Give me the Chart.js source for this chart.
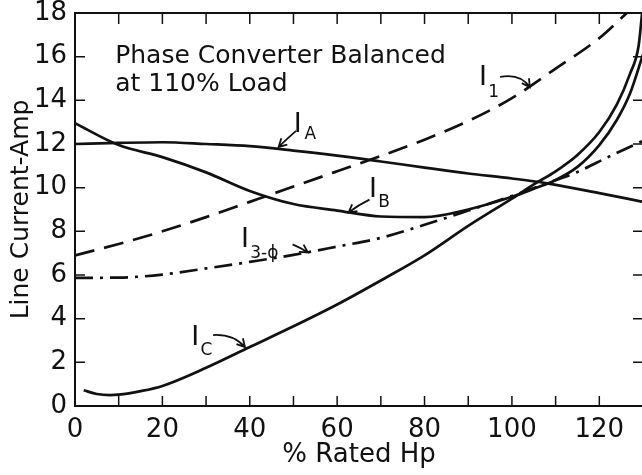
<!DOCTYPE html>
<html>
<head>
<meta charset="utf-8">
<script src="https://cdn.jsdelivr.net/npm/chart.js@4.4.1/dist/chart.umd.min.js"></script>
<style>
  html, body { margin: 0; padding: 0; background: #fff; overflow: hidden; }
  #wrap { width: 650px; height: 475px; }
</style>
</head>
<body>
<div id="wrap"><canvas id="grafico" width="650" height="475"></canvas></div>
<script>
// % rated hp (x) y corriente de linea en amperios (y)
const hpA = [0, 10, 20, 30, 40, 50, 60, 70, 80, 90, 100, 108, 120, 130];
const corrA = [12.0, 12.05, 12.08, 12.0, 11.9, 11.7, 11.47, 11.2, 10.92, 10.65, 10.42, 10.2, 9.75, 9.35];

const hpB = [0, 10, 20, 30, 40, 50, 60, 70, 80, 90, 100, 105, 110, 115, 120, 124, 127, 130];
const corrB = [12.95, 11.95, 11.4, 10.7, 9.85, 9.25, 8.95, 8.68, 8.65, 9.0, 9.58, 9.95, 10.35, 10.95, 11.95, 13.1, 14.3, 16.1];

const hpC = [2, 5, 8, 10, 15, 20, 30, 40, 50, 60, 70, 80, 90, 100, 105, 110, 115, 120, 124, 127, 129, 129.8];
const corrC = [0.72, 0.55, 0.5, 0.52, 0.68, 0.92, 1.75, 2.7, 3.65, 4.65, 5.75, 6.9, 8.25, 9.5, 10.15, 10.75, 11.5, 12.55, 13.8, 15.2, 16.5, 18];

const hp1 = [0, 10, 20, 30, 40, 50, 60, 70, 80, 90, 100, 110, 120, 126.3];
const corr1 = [6.9, 7.42, 8.0, 8.65, 9.35, 10.05, 10.75, 11.45, 12.2, 13.05, 14.1, 15.45, 16.85, 18];

const hp3 = [0, 10, 20, 30, 40, 50, 60, 70, 80, 90, 100, 108, 115, 122, 130];
const corr3 = [5.87, 5.88, 6.02, 6.3, 6.6, 6.92, 7.3, 7.7, 8.3, 8.95, 9.62, 10.2, 10.72, 11.4, 12.15];

const xLabels = [0, 20, 40, 60, 80, 100, 120];
const yLabels = [0, 2, 4, 6, 8, 10, 12, 14, 16, 18];

const titulo = ["Phase Converter Balanced", "at 110% Load"];

// etiquetas de las curvas (en unidades de los ejes)
const etiquetas = [
    {t: "I", sub: "A", x: 51.0, y: 12.55, sx: 52.5, sy: 12.25},
    {t: "I", sub: "B", x: 68.2, y: 9.57, sx: 69.4, sy: 9.1},
    {t: "I", sub: "3-\u03d5", x: 38.9, y: 7.28, sx: 40.1, sy: 6.78},
    {t: "I", sub: "1", x: 93.4, y: 14.7, sx: 94.6, sy: 14.15},
    {t: "I", sub: "C", x: 27.5, y: 2.79, sx: 28.7, sy: 2.32}
];
const flechas = [
    {x0: 50.6, y0: 12.6, cx: 48.6, cy: 12.25, x1: 46.6, y1: 11.87},
    {x0: 67.4, y0: 9.45, cx: 64.8, cy: 9.2, x1: 62.6, y1: 8.86},
    {x0: 49.8, y0: 7.4, cx: 51.6, cy: 7.25, x1: 53.3, y1: 7.03},
    {x0: 97.3, y0: 15.07, cx: 101.9, cy: 15.25, x1: 104.1, y1: 14.6},
    {x0: 31.6, y0: 3.25, cx: 36.2, cy: 3.3, x1: 38.9, y1: 2.7}
];

const FUENTE = "'DejaVu Sans', sans-serif";
const NEGRO = "#111";

function puntos(xs, ys){
    return xs.map(function(v, i){ return {x: v, y: ys[i]}; });
}

function serie(label, xs, ys, dash){
    return {
        label: label,
        data: puntos(xs, ys),
        borderColor: NEGRO,
        borderWidth: 2.7,
        borderDash: dash,
        pointRadius: 0,
        fill: false,
        cubicInterpolationMode: 'monotone'
    };
}

const marco = {
    id: 'marco',
    afterDatasetsDraw(chart){
        const ctx = chart.ctx;
        const a = chart.chartArea;
        const x = chart.scales.x;
        const y = chart.scales.y;
        ctx.save();
        ctx.strokeStyle = NEGRO;
        ctx.lineWidth = 2;
        ctx.strokeRect(a.left, a.top, a.right - a.left, a.bottom - a.top);
        ctx.lineWidth = 1.5;
        ctx.beginPath();
        x.ticks.forEach(function(t){
            if (t.value <= x.min || t.value >= x.max) return;
            const px = x.getPixelForValue(t.value);
            ctx.moveTo(px, a.bottom); ctx.lineTo(px, a.bottom - 10);
            ctx.moveTo(px, a.top); ctx.lineTo(px, a.top + 11);
        });
        y.ticks.forEach(function(t){
            if (t.value <= y.min || t.value >= y.max) return;
            const py = y.getPixelForValue(t.value);
            ctx.moveTo(a.left, py); ctx.lineTo(a.left + 10, py);
            ctx.moveTo(a.right, py); ctx.lineTo(a.right - 10, py);
        });
        ctx.stroke();

        // titulo dentro del grafico
        ctx.fillStyle = NEGRO;
        ctx.font = "25px " + FUENTE;
        ctx.textAlign = 'left';
        ctx.textBaseline = 'alphabetic';
        ctx.fillText(titulo[0], x.getPixelForValue(9.2), y.getPixelForValue(15.71));
        ctx.fillText(titulo[1], x.getPixelForValue(9.2), y.getPixelForValue(14.43));

        // etiquetas I con subindice
        etiquetas.forEach(function(e){
            ctx.font = "27px " + FUENTE;
            ctx.textAlign = 'center';
            ctx.fillText(e.t, x.getPixelForValue(e.x), y.getPixelForValue(e.y));
            ctx.font = "17px " + FUENTE;
            ctx.textAlign = 'left';
            ctx.fillText(e.sub, x.getPixelForValue(e.sx), y.getPixelForValue(e.sy));
        });

        // flechas
        ctx.lineWidth = 1.8;
        flechas.forEach(function(f){
            const x0 = x.getPixelForValue(f.x0), y0 = y.getPixelForValue(f.y0);
            const cx = x.getPixelForValue(f.cx), cy = y.getPixelForValue(f.cy);
            const x1 = x.getPixelForValue(f.x1), y1 = y.getPixelForValue(f.y1);
            ctx.beginPath();
            ctx.moveTo(x0, y0);
            ctx.quadraticCurveTo(cx, cy, x1, y1);
            const ang = Math.atan2(y1 - cy, x1 - cx);
            const L = 9, abre = 0.5;
            ctx.moveTo(x1 - L * Math.cos(ang - abre), y1 - L * Math.sin(ang - abre));
            ctx.lineTo(x1, y1);
            ctx.lineTo(x1 - L * Math.cos(ang + abre), y1 - L * Math.sin(ang + abre));
            ctx.stroke();
        });
        ctx.restore();
    }
};

new Chart(document.getElementById("grafico"), {
    type: 'line',
    data: {
        datasets: [
            serie("IA", hpA, corrA, []),
            serie("IB", hpB, corrB, []),
            serie("IC", hpC, corrC, []),
            serie("I1", hp1, corr1, [20, 10]),
            serie("I3", hp3, corr3, [18, 7, 3, 7])
        ]
    },
    options: {
        responsive: false,
        animation: false,
        devicePixelRatio: 1,
        layout: { padding: { top: 13, right: 7, left: 0, bottom: 0 } },
        plugins: {
            legend: { display: false },
            tooltip: { enabled: false }
        },
        scales: {
            x: {
                type: 'linear',
                min: 0,
                max: 130,
                grid: { display: false, drawTicks: false },
                border: { display: false },
                ticks: {
                    stepSize: 10,
                    autoSkip: false,
                    maxRotation: 0,
                    padding: 9,
                    color: NEGRO,
                    font: { family: FUENTE, size: 26 },
                    callback: function(v){ return xLabels.includes(v) ? String(v) : ''; }
                },
                title: {
                    display: true,
                    text: '% Rated Hp',
                    color: NEGRO,
                    font: { family: FUENTE, size: 26 },
                    padding: { top: 0, bottom: 4 }
                },
                afterFit: function(s){
                    s.height = 69;
                    s.paddingLeft = 0;
                    s.paddingRight = 0;
                }
            },
            y: {
                min: 0,
                max: 18,
                grid: { display: false, drawTicks: false },
                border: { display: false },
                ticks: {
                    stepSize: 2,
                    autoSkip: false,
                    padding: 8,
                    color: NEGRO,
                    font: { family: FUENTE, size: 26 },
                    callback: function(v){ return yLabels.includes(v) ? String(v) : ''; }
                },
                title: {
                    display: true,
                    text: 'Line Current-Amp',
                    color: NEGRO,
                    font: { family: FUENTE, size: 25 },
                    padding: { top: 6, bottom: 0 }
                },
                afterFit: function(s){
                    s.width = 75;
                    s.paddingTop = 0;
                    s.paddingBottom = 0;
                }
            }
        }
    },
    plugins: [marco]
});
</script>
</body>
</html>
